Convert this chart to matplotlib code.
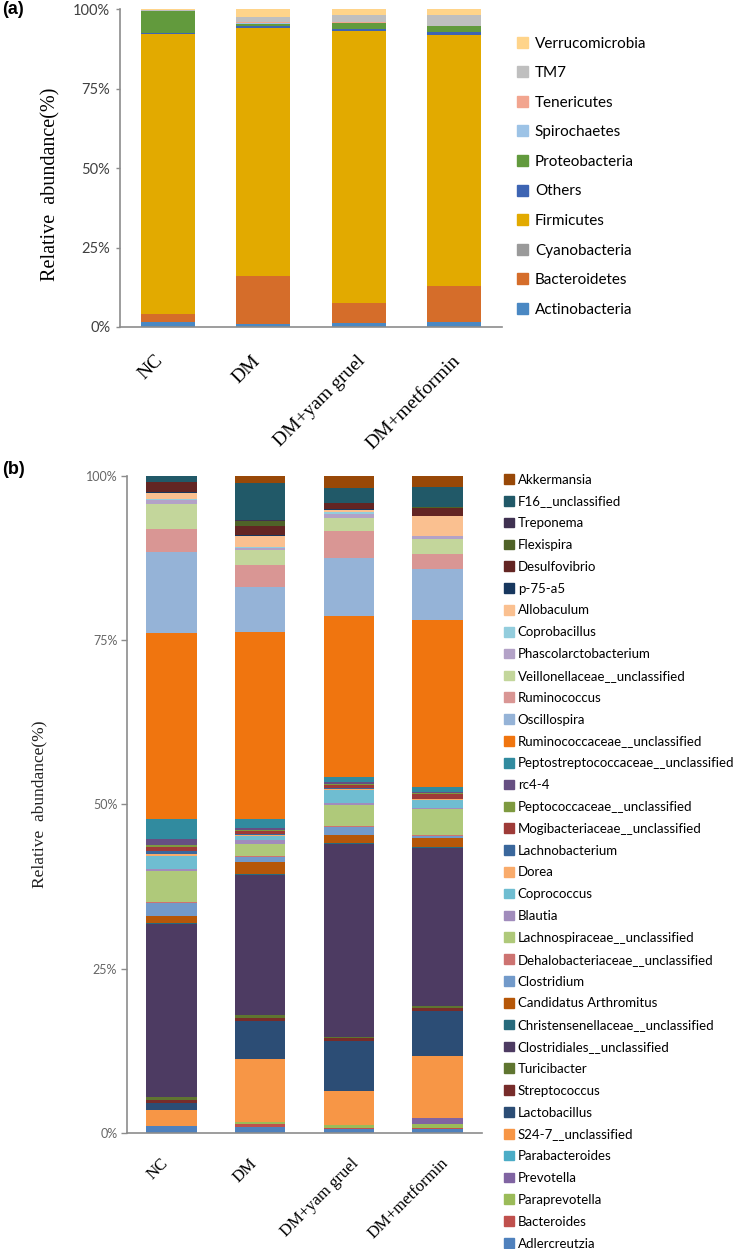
import matplotlib.pyplot as plt
from matplotlib.patches import Patch
from matplotlib.transforms import ScaledTranslation
import numpy as np

groups = ["NC", "DM", "DM+yam gruel", "DM+metformin"]

# panel (a) - phylum level, listed bottom -> top of the stack
phyla = ["Actinobacteria", "Bacteroidetes", "Cyanobacteria", "Firmicutes", "Others",
         "Proteobacteria", "Spirochaetes", "Tenericutes", "TM7", "Verrucomicrobia"]
phylum_colors = ["#4A88C3", "#D56D2A", "#9A9A9A", "#E2AA00", "#3D64B3",
                 "#629A3D", "#9DC3E6", "#F2A58F", "#BFBFBF", "#FFD48A"]
nc_phylum = [1.7, 2.4, 0.1, 87.9, 0.5, 6.8, 0.0, 0.0, 0.5, 0.1]
dm_phylum = [1.0, 15.1, 0.0, 77.9, 0.8, 0.7, 0.3, 0.1, 1.6, 2.5]
yam_phylum = [1.2, 6.2, 0.0, 85.8, 0.5, 2.0, 0.0, 0.2, 2.2, 1.9]
met_phylum = [1.5, 11.3, 0.1, 79.0, 0.8, 2.2, 0.0, 0.0, 3.4, 1.7]

# panel (b) - genus level, listed bottom -> top of the stack
genera = ["Adlercreutzia", "Bacteroides", "Paraprevotella", "Prevotella", "Parabacteroides",
          "S24-7__unclassified", "Lactobacillus", "Streptococcus", "Turicibacter",
          "Clostridiales__unclassified", "Christensenellaceae__unclassified",
          "Candidatus Arthromitus", "Clostridium", "Dehalobacteriaceae__unclassified",
          "Lachnospiraceae__unclassified", "Blautia", "Coprococcus", "Dorea",
          "Lachnobacterium", "Mogibacteriaceae__unclassified", "Peptococcaceae__unclassified",
          "rc4-4", "Peptostreptococcaceae__unclassified", "Ruminococcaceae__unclassified",
          "Oscillospira", "Ruminococcus", "Veillonellaceae__unclassified",
          "Phascolarctobacterium", "Coprobacillus", "Allobaculum", "p-75-a5",
          "Desulfovibrio", "Flexispira", "Treponema", "F16__unclassified", "Akkermansia"]
genus_colors = ["#4F81BD", "#C0504D", "#9BBB59", "#8064A2", "#4BACC6",
                "#F79646", "#2C4D75", "#772C2A", "#5F7530",
                "#4D3B62", "#276A7C",
                "#B65708", "#729ACA", "#CD7371",
                "#AFC97A", "#A18CBC", "#6FBDD1", "#F9AB6B",
                "#3A679C", "#9E3B38", "#7E9A40",
                "#664F82", "#318B9F", "#F0750F",
                "#95B3D7", "#D99694", "#C3D69B",
                "#B3A2C7", "#93CDDD", "#FAC090", "#17375E",
                "#632523", "#4F6228", "#3F3151", "#215968", "#984807"]
nc_genus = [1.0, 0.05, 0.02, 0.0, 0.0, 2.45, 1.0, 0.5, 0.5, 26.3, 0.2, 1.0, 2.0, 0.1,
            4.7, 0.3, 2.0, 0.3, 0.5, 0.66, 0.3, 0.87, 3.05, 28.2, 12.4, 3.46, 3.8,
            0.65, 0.1, 1.0, 0.1, 1.5, 0.0, 0.0, 1.0, 0.0]
dm_genus = [0.95, 0.45, 0.2, 0.05, 0.0, 9.6, 5.85, 0.4, 0.4, 21.3, 0.2, 1.8, 0.85, 0.15,
            1.75, 0.6, 0.6, 0.2, 0.1, 0.5, 0.2, 0.3, 1.25, 28.45, 6.95, 3.25, 2.4,
            0.2, 0.25, 1.6, 0.25, 1.3, 0.8, 0.1, 5.6, 1.15]
yam_genus = [0.65, 0.15, 0.35, 0.07, 0.0, 5.2, 7.55, 0.5, 0.15, 29.4, 0.15, 1.15, 1.25, 0.15,
             3.15, 0.4, 1.9, 0.1, 0.2, 0.45, 0.2, 0.3, 0.7, 24.6, 8.7, 4.1, 2.1,
             0.6, 0.2, 0.4, 0.1, 0.95, 0.0, 0.05, 2.2, 1.9]
met_genus = [0.65, 0.1, 0.55, 0.95, 0.0, 9.4, 6.85, 0.55, 0.25, 24.05, 0.2, 1.4, 0.3, 0.1,
             3.9, 0.15, 1.25, 0.1, 0.05, 0.85, 0.05, 0.25, 0.75, 25.4, 7.7, 2.35, 2.25,
             0.5, 0.0, 2.9, 0.0, 1.35, 0.15, 0.0, 2.95, 1.75]

W, H = 736, 1249
fig = plt.figure(figsize=(W / 100, H / 100), dpi=100)
serif = ["Liberation Serif", "DejaVu Serif"]
sans = ["Lato", "DejaVu Sans"]
axis_grey = "#8C8C8C"


def px_axes(left, top, right, bottom):
    return fig.add_axes([left / W, 1 - bottom / H, (right - left) / W, (bottom - top) / H])


def stacked(ax, table, names, colors, width):
    data = np.array(table).T  # rows = taxa, cols = groups
    x = np.arange(len(groups))
    base = np.zeros(len(groups))
    for row, name, col in zip(data, names, colors):
        ax.bar(x, row, width, bottom=base, color=col, label=name, linewidth=0)
        base += row
    ax.set_xlim(-0.5, len(groups) - 0.5)
    ax.set_ylim(0, 100)
    ax.set_yticks([0, 25, 50, 75, 100])
    ax.set_yticklabels(["0%", "25%", "50%", "75%", "100%"])
    ax.set_xticks(x)
    for s in ["top", "right"]:
        ax.spines[s].set_visible(False)
    for s in ["left", "bottom"]:
        ax.spines[s].set_color(axis_grey)
        ax.spines[s].set_linewidth(1.2)


def shift_labels(ax, shifts_px):
    # longer rotated labels sit a little right of their bar in the original
    for t, dx in zip(ax.get_xticklabels(), shifts_px):
        t.set_transform(t.get_transform() + ScaledTranslation(dx / 100, 0, fig.dpi_scale_trans))


# ---------- panel (a)
ax1 = px_axes(120, 9.3, 502, 327)
stacked(ax1, [nc_phylum, dm_phylum, yam_phylum, met_phylum], phyla, phylum_colors, 0.57)
ax1.tick_params(axis="y", length=3, width=1, color=axis_grey, pad=4,
                labelsize=10.5, labelcolor="#404040")
ax1.tick_params(axis="x", length=0, pad=18)
for t in ax1.get_yticklabels():
    t.set_family(sans)
ax1.set_xticklabels(groups, rotation=45, ha="right", family=serif, fontsize=14)
shift_labels(ax1, [-1, 0, 10, 9])
ax1.set_ylabel("Relative  abundance(%)", family=serif, fontsize=14.5)
ax1.yaxis.set_label_coords(-60 / 382, 0.45)

h1 = [Patch(color=c, label=n) for n, c in zip(phyla, phylum_colors)][::-1]
fig.legend(handles=h1, loc="upper left", bbox_to_anchor=(517 / W, 1 - 36.5 / H),
           frameon=False, prop={"family": sans, "size": 11}, borderpad=0,
           borderaxespad=0, handlelength=0.72, handleheight=0.72,
           handletextpad=0.45, labelspacing=1.02)
fig.text(2 / W, 1 - 10 / H, "(a)", fontsize=13, fontweight="bold",
         family=["Liberation Sans", "DejaVu Sans"], va="center")

# ---------- panel (b)
ax2 = px_axes(127, 475.7, 482, 1133)
stacked(ax2, [nc_genus, dm_genus, yam_genus, met_genus], genera, genus_colors, 0.57)
ax2.tick_params(axis="y", length=4, width=1, color=axis_grey, pad=3,
                labelsize=9, labelcolor="#666666")
ax2.tick_params(axis="x", length=0, pad=16)
for t in ax2.get_yticklabels():
    t.set_family(sans)
ax2.set_xticklabels(groups, rotation=45, ha="right", family=serif, fontsize=12)
shift_labels(ax2, [0, 0, 13, 14])
ax2.set_ylabel("Relative  abundance(%)", family=serif, fontsize=12.5, color="#222222")
ax2.yaxis.set_label_coords(-80 / 355, 0.5)

h2 = [Patch(color=c, label=n) for n, c in zip(genera, genus_colors)][::-1]
fig.legend(handles=h2, loc="upper left", bbox_to_anchor=(504 / W, 1 - 473.5 / H),
           frameon=False, prop={"family": sans, "size": 9.5}, borderpad=0,
           borderaxespad=0, handlelength=0.75, handleheight=0.75,
           handletextpad=0.3, labelspacing=0.745)
fig.text(2 / W, 1 - 469 / H, "(b)", fontsize=13, fontweight="bold",
         family=["Liberation Sans", "DejaVu Sans"], va="center")

fig.savefig("out.png", dpi=100)
